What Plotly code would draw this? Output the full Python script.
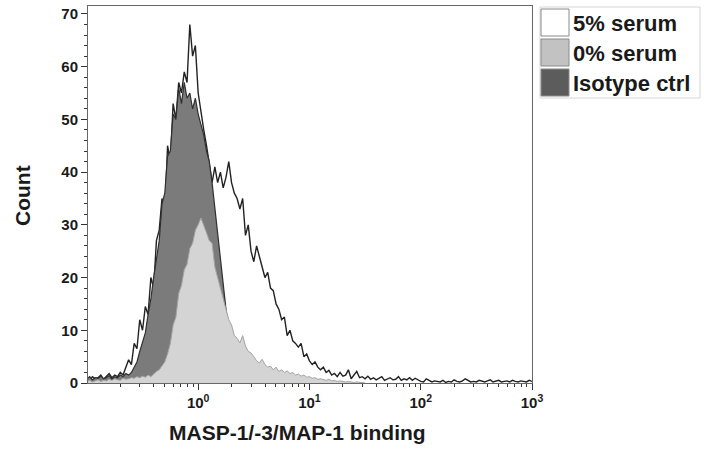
"""Flow cytometry overlay histogram: MASP-1/-3/MAP-1 binding."""

import numpy as np
import plotly.graph_objects as go

# histogram channels are log10 bin centres, 0.025 decade apart, from 10^-1
LOG_START = -1.0
LOG_STEP = 0.025

serum_5 = [
    1.0, 0.5, 1.2, 0.8, 1.0, 1.5, 0.7, 1.2, 1.8, 1.0, 1.5,
    1.2, 2.0, 1.5, 3.0, 4.4, 3.5, 7.5, 6.5, 12, 10,
    14.5, 13, 20, 18, 27, 29, 35, 32, 45, 42,
    53, 50, 57, 55, 59, 57, 68, 62, 64, 55,
    51, 48, 45, 41, 38, 41, 38, 40, 37, 39,
    42, 38, 36, 35, 33, 35, 28, 30, 25, 23,
    26, 24, 22, 20, 21, 18, 17.5, 15, 14, 12,
    12.5, 9, 10, 8, 7.5, 6.8, 7.5, 5, 5.5, 4.2,
    3.5, 4, 3, 2.5, 3, 2, 2.4, 1.5, 1.8, 1.2,
    2, 1.3, 1.5, 2.5, 0.8, 1.5, 2.2, 1, 1.2, 0.8,
    1.3, 0.7, 1, 0.6, 0.9, 1.2, 0.5, 0.8, 1, 0.6,
    0.7, 1.2, 0.5, 0.8, 0.6, 1, 0.5, 0.9, 0.6,
    0.3, 0.2, 0.8, 0.5, 0.2, 0.4, 0.3, 0.2, 0.5, 0.1,
    0.3, 0.2, 0.6, 0.3, 0.2, 0.4, 0.8, 0.5, 0.2, 0.3,
    0.2, 0.5, 0.3, 0.2, 0.4, 0.6, 0.2, 0.3, 0.5, 0.2,
    0.3, 0.4, 0.2, 0.5, 0.3, 0.2, 0.4, 0.3, 0.2, 0.5,
    0.3,
]

isotype = [
    0.8, 1.2, 0.6, 1, 0.9, 1.3, 0.8, 1, 1.4, 0.7, 1.2, 1, 1.5, 1.2, 1.8,
    1.5, 2, 3, 4, 6, 8, 9.5, 13, 16, 20,
    24, 27, 34, 36, 43, 44, 51, 50, 56, 53,
    57, 54, 55, 52, 54, 51, 49, 47, 44, 42,
    38, 33, 28, 23, 18, 14, 10, 7.5, 6, 4.5,
    3.5, 2.5, 2, 1.5, 1.2, 1, 0.8, 0.7, 0.6, 0.5, 0.4, 0.4, 0.3, 0.3, 0.2, 0.2,
]

serum_0 = [
    0.3, 0.5, 0.2, 0.4, 0.6, 0.3, 0.5, 0.4, 0.7, 0.5, 0.8, 0.6, 0.5, 0.9, 0.7, 0.8, 1, 0.9,
    1.2, 1, 1.3, 1.1, 1.5, 1.2, 1.8, 2.2, 2.5, 3.2,
    4, 5.5, 7.5, 11, 12.5, 17, 18.5, 21.5, 22.5, 25.5,
    26.5, 29, 30, 31.3, 30, 28.5, 27, 26.5, 22, 20,
    18, 15.7, 13.5, 12, 11, 9, 8.5, 7.6, 9, 7,
    6, 5.7, 5, 4.2, 3.8, 4.5, 3.5, 3, 3.2, 2.5,
    3, 2.2, 2.5, 2, 2.3, 1.8, 2, 1.5, 1.7, 1.3, 1.5, 1.1, 1.2,
    0.9, 1, 0.7, 0.8, 0.6, 0.5, 0.7, 0.4, 0.5, 0.3,
    0.4, 0.3, 0.2, 0.3, 0.2, 0.1, 0.2, 0.1, 0.1, 0,
]

series_names = ["5% serum", "0% serum", "Isotype ctrl"]
x_tick_vals = [1, 10, 100, 1000]
x_tick_text = ["10<sup>0</sup>", "10<sup>1</sup>", "10<sup>2</sup>", "10<sup>3</sup>"]

FONT = "Liberation Sans"
TEXT = "#1a1a1a"

# plot area in pixels (704x450 page)
L, R, T, B = 88, 532, 6, 383


def channels(n):
    return 10 ** (LOG_START + LOG_STEP * np.arange(n))


def paper_x(px):
    return (px - L) / (R - L)


def paper_y(py):
    return (B - py) / (B - T)


fig = go.Figure()
fig.add_trace(go.Scatter(x=channels(len(serum_5)), y=serum_5, mode="lines", fill="tozeroy",
                         fillcolor="white", line=dict(color="#222222", width=1.4), name=series_names[0]))
fig.add_trace(go.Scatter(x=channels(len(isotype)), y=isotype, mode="lines", fill="tozeroy",
                         fillcolor="#7b7b7b", line=dict(color="#303030", width=1.2), name=series_names[2]))
fig.add_trace(go.Scatter(x=channels(len(serum_0)), y=serum_0, mode="lines", fill="tozeroy",
                         fillcolor="#d4d4d4", line=dict(color="#a3a3a3", width=1), name=series_names[1]))

minor_x = [m * 10 ** d for d in range(-1, 3) for m in range(2, 10)]

fig.update_layout(
    width=704,
    height=450,
    margin=dict(l=L, r=704 - R, t=T, b=450 - B),
    paper_bgcolor="white",
    plot_bgcolor="white",
    showlegend=False,
    font=dict(family=FONT, color=TEXT),
    xaxis=dict(
        type="log", range=[-0.99, 3.0], tickvals=x_tick_vals, ticktext=x_tick_text,
        ticks="outside", ticklen=6, tickcolor="#333", showline=True, linecolor="#666",
        mirror=True, showgrid=False, zeroline=False,
        tickfont=dict(family=FONT, size=15, color=TEXT, weight="bold"),
        minor=dict(tickvals=minor_x, ticks="outside", ticklen=3, tickcolor="#333"),
    ),
    yaxis=dict(
        range=[0, 71.5], dtick=10, ticks="outside", ticklen=6, tickcolor="#333",
        showline=True, linecolor="#666", mirror=True, showgrid=False, zeroline=False,
        tickfont=dict(family=FONT, size=15, color=TEXT, weight="bold"),
        minor=dict(dtick=2, ticks="outside", ticklen=3, tickcolor="#333"),
    ),
)

# axis titles
fig.add_annotation(text="MASP-1/-3/MAP-1 binding", xref="paper", yref="paper",
                   x=paper_x(297), y=paper_y(432), xanchor="center", yanchor="middle",
                   showarrow=False, font=dict(size=21, weight="bold", color=TEXT))
fig.add_annotation(text="Count", xref="paper", yref="paper", x=paper_x(22), y=paper_y(196),
                   xanchor="center", yanchor="middle", textangle=-90, showarrow=False,
                   font=dict(size=21, weight="bold", color=TEXT))

# legend drawn as boxes to the right of the plot
fig.add_shape(type="rect", xref="paper", yref="paper", x0=paper_x(540), x1=paper_x(700),
              y0=paper_y(98), y1=paper_y(7), line=dict(color="#d6d6d6", width=1))
legend_fills = ["white", "#c2c2c2", "#5c5c5c"]
for k, name in enumerate(series_names):
    top = 9 + 30 * k
    fig.add_shape(type="rect", xref="paper", yref="paper", x0=paper_x(541), x1=paper_x(569),
                  y0=paper_y(top + 27), y1=paper_y(top), fillcolor=legend_fills[k],
                  line=dict(color="#8a8a8a", width=1))
    fig.add_annotation(text=name, xref="paper", yref="paper", x=paper_x(571), y=paper_y(top + 14),
                       xanchor="left", yanchor="middle", showarrow=False,
                       font=dict(size=22, weight="bold", color=TEXT))

# drop the page's default body margin so the figure sits at the window's corner
fig.write_html("out.html", config={"displayModeBar": False},
               post_script="document.body.style.margin = '0px';")
